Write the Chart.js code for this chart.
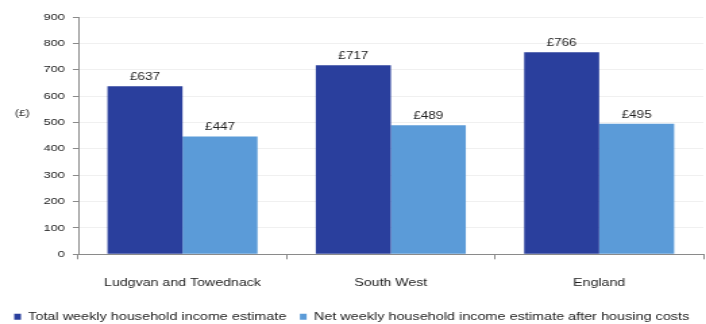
<!DOCTYPE html>
<html>
<head>
<meta charset="utf-8">
<script src="https://cdn.jsdelivr.net/npm/chart.js@4.4.0/dist/chart.umd.min.js"></script>
<style>
  html, body { margin: 0; padding: 0; background: #ffffff; overflow: hidden; }
  #wrap { width: 706px; height: 324px; overflow: hidden; }
  #c { display: block; transform: scaleX(1.35); transform-origin: 0 0; }
</style>
</head>
<body>
<div id="wrap"><canvas id="c" width="523" height="324" style="width:523px;height:324px;"></canvas></div>
<script>
const categories = ["Ludgvan and Towednack", "South West", "England"];
const seriesNames = ["Total weekly household income estimate", "Net weekly household income estimate after housing costs"];
const totalIncome = [637, 717, 766];
const netIncome = [447, 489, 495];
const yTicks = [0, 100, 200, 300, 400, 500, 600, 700, 800, 900];
const unitLabel = "(£)";

const FONT = "'Liberation Sans', Arial, sans-serif";
const TEXT = "#222222";

const valueLabels = {
  id: 'valueLabels',
  afterDatasetsDraw(chart) {
    const ctx = chart.ctx;
    ctx.save();
    ctx.font = "10px " + FONT;
    ctx.fillStyle = TEXT;
    ctx.textAlign = 'center';
    ctx.textBaseline = 'bottom';
    chart.data.datasets.forEach((ds, i) => {
      const meta = chart.getDatasetMeta(i);
      meta.data.forEach((bar, j) => {
        ctx.fillText('£' + ds.data[j], bar.x, bar.y - 4);
      });
    });
    ctx.restore();
  }
};

const unitPlugin = {
  id: 'unitPlugin',
  afterDraw(chart) {
    const ctx = chart.ctx;
    ctx.save();
    ctx.font = "9px " + FONT;
    ctx.fillStyle = TEXT;
    ctx.textAlign = 'left';
    ctx.textBaseline = 'middle';
    const y = chart.scales.y.getPixelForValue(535);
    ctx.fillText(unitLabel, 11, y);
    ctx.restore();
  }
};

new Chart(document.getElementById('c'), {
  type: 'bar',
  data: {
    labels: categories,
    datasets: [
      { label: seriesNames[0], data: totalIncome, backgroundColor: '#2A3F9D', categoryPercentage: 0.72, barPercentage: 1.0 },
      { label: seriesNames[1], data: netIncome, backgroundColor: '#5B9BD8', categoryPercentage: 0.72, barPercentage: 1.0 }
    ]
  },
  options: {
    responsive: false,
    devicePixelRatio: 1,
    animation: false,
    layout: { padding: { top: 17, right: 2, left: 0, bottom: -8 } },
    plugins: {
      legend: {
        position: 'bottom',
        labels: {
          boxWidth: 5,
          boxHeight: 6,
          padding: 10,
          color: TEXT,
          font: { family: FONT, size: 10.7 }
        }
      },
      tooltip: { enabled: false }
    },
    scales: {
      x: {
        offset: true,
        grid: { display: true, drawOnChartArea: false, offset: true, tickLength: 5, color: '#8a8a8a' },
        border: { color: '#8a8a8a', width: 1 },
        ticks: { color: TEXT, font: { family: FONT, size: 10.5 }, padding: 18 },
        afterFit(scale) { scale.height = 47; }
      },
      y: {
        min: 0, max: 900,
        afterBuildTicks(scale) { scale.ticks = yTicks.map(v => ({ value: v })); },
        grid: { color: '#f0f0f0', tickColor: '#8a8a8a', tickLength: 4 },
        border: { color: '#8a8a8a', width: 1 },
        ticks: { color: TEXT, font: { family: FONT, size: 9.5 }, padding: 6 },
        afterFit(scale) { scale.width = 58; }
      }
    }
  },
  plugins: [valueLabels, unitPlugin]
});
</script>
</body>
</html>
